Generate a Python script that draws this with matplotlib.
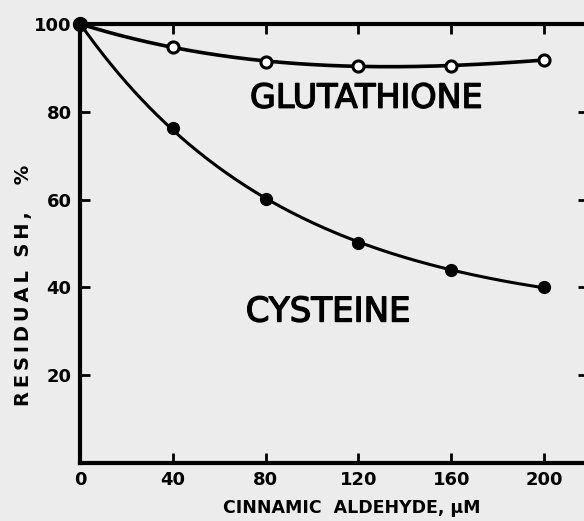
import numpy as np
import matplotlib
matplotlib.use("Agg")
import matplotlib.pyplot as plt
import matplotlib.patheffects as pe

# Data
conc_um = [0, 40, 80, 120, 160, 200]
glutathione = [100, 94.8, 91.4, 90.5, 90.5, 91.8]
cysteine = [100, 76.4, 60.2, 50.2, 43.9, 40.0]
xticks = [0, 40, 80, 120, 160, 200]
xticklabels = ["0", "40", "80", "120", "160", "200"]
yticks = [20, 40, 60, 80, 100]
yticklabels = ["20", "40", "60", "80", "100"]


def fit_decay(x, y):
    """Fit y = p + (y0-p)*exp(-x/k) by grid search over plateau p."""
    x = np.asarray(x, float)
    y = np.asarray(y, float)
    best = None
    for p in np.linspace(0, min(y) - 0.05, 400):
        yy = np.log(y - p)
        b, a = np.polyfit(x, yy, 1)
        pred = p + np.exp(a + b * x)
        err = np.sum((pred - y) ** 2)
        if best is None or err < best[0]:
            best = (err, p, a, b)
    _, p, a, b = best
    return lambda t: p + np.exp(a + b * t)


bg = "#ececec"
fig = plt.figure(figsize=(5.84, 5.21), dpi=100)
fig.patch.set_facecolor(bg)
ax = fig.add_axes([0.1370, 0.1113, 0.8700, 0.8426])
ax.set_facecolor(bg)

xs = np.linspace(0, 200, 300)
f_cys = fit_decay(conc_um, cysteine)
f_glu = np.poly1d(np.polyfit(conc_um, glutathione, 3))

ax.plot(xs, f_cys(xs), color="black", lw=2.2, zorder=3)
ax.plot(xs, f_glu(xs), color="black", lw=2.6, zorder=3)
ax.plot(conc_um[1:], cysteine[1:], "o", color="black", ms=8.5, zorder=4)
ax.plot(conc_um[1:], glutathione[1:], "o", mfc="white", mec="black",
        mew=2.2, ms=8, zorder=4)
ax.plot([0], [100], "o", color="black", ms=10, zorder=5, clip_on=False)

ax.set_xlim(0, 219)
ax.set_ylim(0, 100)
ax.set_xticks(xticks)
ax.set_xticklabels(xticklabels)
ax.set_yticks(yticks)
ax.set_yticklabels(yticklabels)
for s in ax.spines.values():
    s.set_linewidth(3)
ax.tick_params(direction="in", length=7, width=2, top=True, right=True,
               labelsize=13, pad=6)
for lab in ax.get_xticklabels() + ax.get_yticklabels():
    lab.set_fontweight("bold")

ax.set_xlabel("CINNAMIC  ALDEHYDE, \u03bcM", fontsize=12.5, fontweight="bold")
ax.xaxis.set_label_coords(0.534, -0.083)
ts = "\u2009"
ylab = ts.join("RESIDUAL") + "  " + ts.join("SH,") + "    %"
ax.set_ylabel(ylab, fontsize=14, fontweight="bold")
ax.yaxis.set_label_coords(-0.092, 0.405)

thick = [pe.withStroke(linewidth=1.0, foreground="black")]
ax.text(123.4, 83.1, "GLUTATHIONE", fontsize=24, ha="center", va="center",
        path_effects=thick)
ax.text(107, 34.4, "CYSTEINE", fontsize=24.5, ha="center", va="center",
        path_effects=thick)

fig.savefig("out.png", dpi=100, facecolor=fig.get_facecolor())
